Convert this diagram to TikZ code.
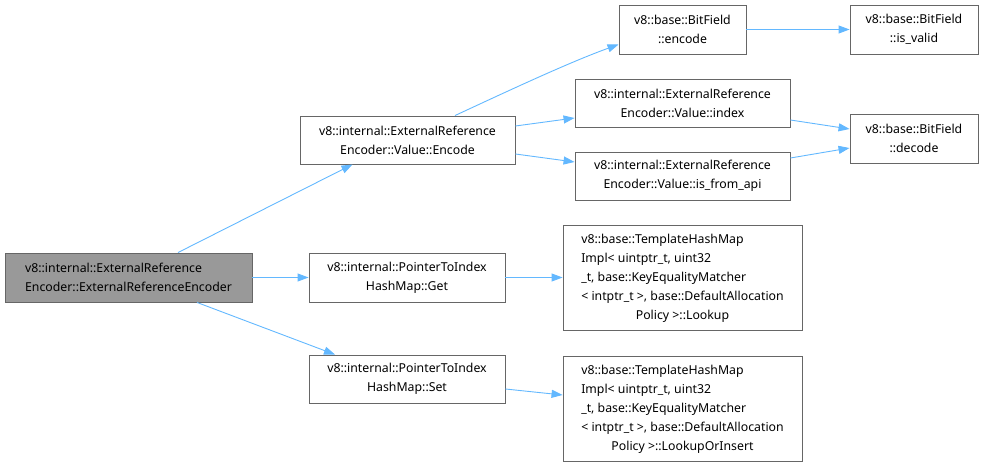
\documentclass[tikz,border=0pt]{standalone}
\usepackage{fontspec}
\setmainfont{Noto Sans}
\usepackage{tikz}
\usetikzlibrary{arrows.meta, calc}
\definecolor{edgeblue}{HTML}{63B8FF}
\definecolor{boxgray}{HTML}{666666}
\definecolor{mainfill}{HTML}{999999}
\tikzstyle{fn}=[draw=boxgray, line width=0.9pt, inner sep=2pt, align=center,
  font=\fontsize{12.3}{19}\selectfont]
\tikzstyle{root}=[fn, fill=mainfill, align=left]
\tikzstyle{call}=[draw=edgeblue, line width=0.9pt, -{Triangle[length=11pt,width=8pt]}]

\begin{document}
\begin{tikzpicture}[x=1pt, y=-1pt]
      \useasboundingbox (0,0) rectangle (983,465);

      \node[root, minimum width=247, minimum height=49] (ctor) at (128.5,277.5)
        {v8::internal::ExternalReference\\Encoder::ExternalReferenceEncoder};
      \node[fn, minimum width=215, minimum height=48] (encodeValue) at (407.5,140)
        {v8::internal::ExternalReference\\Encoder::Value::Encode};
      \node[fn, minimum width=196, minimum height=49] (mapGet) at (407,277.5)
        {v8::internal::PointerToIndex\\HashMap::Get};
      \node[fn, minimum width=196, minimum height=48] (mapSet) at (407,379)
        {v8::internal::PointerToIndex\\HashMap::Set};
      \node[fn, minimum width=127, minimum height=49] (bfEncode) at (682.5,29.5)
        {v8::base::BitField\\::encode};
      \node[fn, minimum width=128, minimum height=49] (bfValid) at (914,29.5)
        {v8::base::BitField\\::is\_valid};
      \node[fn, minimum width=215, minimum height=48] (valIndex) at (682.5,103)
        {v8::internal::ExternalReference\\Encoder::Value::index};
      \node[fn, minimum width=215, minimum height=48] (valApi) at (682.5,176)
        {v8::internal::ExternalReference\\Encoder::Value::is\_from\_api};
      \node[fn, minimum width=128, minimum height=49] (bfDecode) at (914,138.5)
        {v8::base::BitField\\::decode};
      \node[fn, minimum width=239, minimum height=105] (lookup) at (682.5,277.5)
        {\begin{tabular}{@{}l@{}}v8::base::TemplateHashMap\\Impl< uintptr\_t, uint32\\\_t, base::KeyEqualityMatcher\\< intptr\_t >, base::DefaultAllocation\\\multicolumn{1}{@{}c@{}}{Policy >::Lookup}\end{tabular}};
      \node[fn, minimum width=239, minimum height=105] (lookupIns) at (682.5,408.5)
        {\begin{tabular}{@{}l@{}}v8::base::TemplateHashMap\\Impl< uintptr\_t, uint32\\\_t, base::KeyEqualityMatcher\\< intptr\_t >, base::DefaultAllocation\\\multicolumn{1}{@{}c@{}}{Policy >::LookupOrInsert}\end{tabular}};

      \draw[call] ([xshift=49.5pt]ctor.north) -- ([xshift=-55pt]encodeValue.south);
      \draw[call] (ctor.east) -- (mapGet.west);
      \draw[call] ([xshift=68.5pt]ctor.south) -- ([xshift=-72pt]mapSet.north);
      \draw[call] ([xshift=47.5pt]encodeValue.north) .. controls (510,90) and (570,62) .. ([yshift=-15pt]bfEncode.west);
      \draw[call] ([yshift=14pt]encodeValue.east) -- ([yshift=-15pt]valIndex.west);
      \draw[call] ([yshift=-14pt]encodeValue.east) -- ([yshift=14pt]valApi.west);
      \draw[call] (bfEncode.east) -- (bfValid.west);
      \draw[call] ([yshift=-17pt]valIndex.east) -- ([yshift=9.5pt]bfDecode.west);
      \draw[call] ([yshift=18pt]valApi.east) -- ([yshift=-9.5pt]bfDecode.west);
      \draw[call] (mapGet.east) -- (lookup.west);
      \draw[call] ([yshift=-10pt]mapSet.east) -- ([yshift=13.5pt]lookupIns.west);

    \end{tikzpicture}
\end{document}
